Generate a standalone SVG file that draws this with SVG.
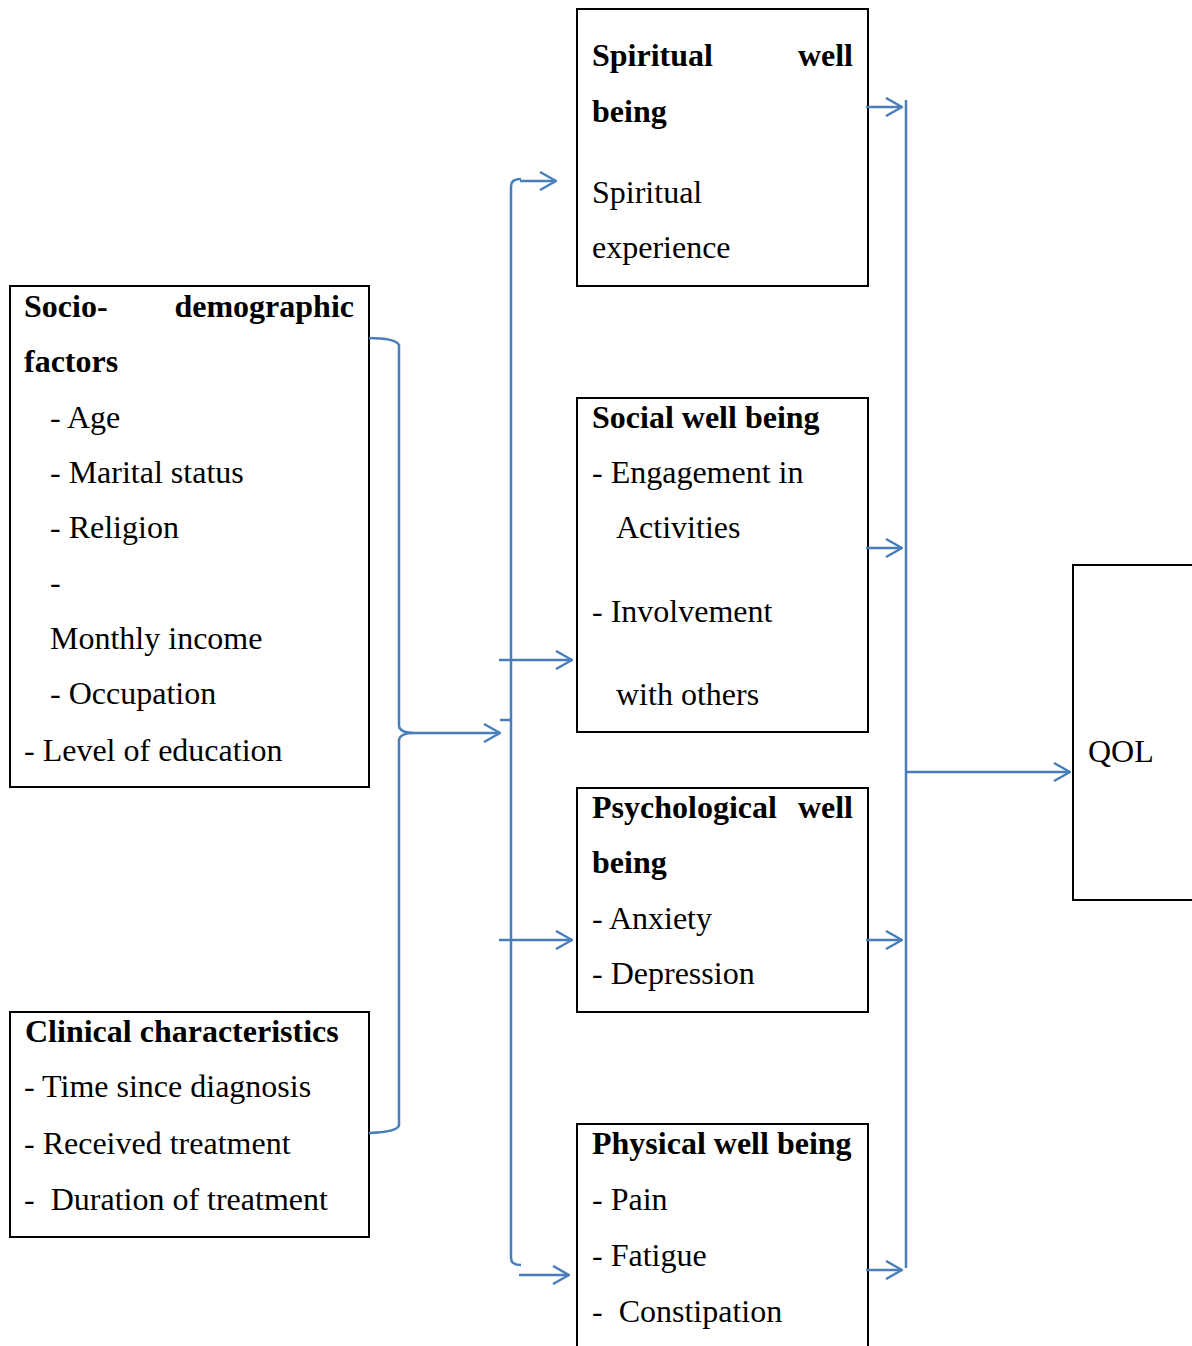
<svg xmlns="http://www.w3.org/2000/svg" width="1192" height="1346" viewBox="0 0 1192 1346">
<style>
.box{fill:#fff;stroke:#000;stroke-width:2}
text{font-family:"Liberation Serif","Times New Roman",serif;font-size:32px;fill:#000}
.b{font-weight:bold}
.c{fill:none;stroke:#4a7ebb;stroke-width:2.5}
</style>
<defs>
<marker id="ah" viewBox="0 0 18 20" refX="17" refY="10" markerWidth="18" markerHeight="20" markerUnits="userSpaceOnUse" orient="auto">
<path d="M1,1 L17,10 L1,19" fill="none" stroke="#4a7ebb" stroke-width="2.5"/>
</marker>
</defs>
<rect width="1192" height="1346" fill="#fff"/>
<g id="socio">
<rect class="box" x="10" y="286" width="359" height="501"/>
<text class="b" x="24" y="317">Socio-</text>
<text class="b" x="354" y="317" text-anchor="end">demographic</text>
<text class="b" x="24" y="372">factors</text>
<text x="50" y="428">- Age</text>
<text x="50" y="483">- Marital status</text>
<text x="50" y="538">- Religion</text>
<text x="50" y="593">-</text>
<text x="50" y="649">Monthly income</text>
<text x="50" y="704">- Occupation</text>
<text x="24" y="761">- Level of education</text>
</g>
<g id="clinical">
<rect class="box" x="10" y="1012" width="359" height="225"/>
<text class="b" x="25" y="1042">Clinical characteristics</text>
<text x="24" y="1097">- Time since diagnosis</text>
<text x="24" y="1154">- Received treatment</text>
<text x="24" y="1210" xml:space="preserve">-  Duration of treatment</text>
</g>
<g id="spiritual">
<rect class="box" x="577" y="9" width="291" height="277"/>
<text class="b" x="592" y="66">Spiritual</text>
<text class="b" x="853" y="66" text-anchor="end">well</text>
<text class="b" x="592" y="122">being</text>
<text x="592" y="203">Spiritual</text>
<text x="592" y="258">experience</text>
</g>
<g id="social">
<rect class="box" x="577" y="398" width="291" height="334"/>
<text class="b" x="592" y="428">Social well being</text>
<text x="592" y="483">- Engagement in</text>
<text x="616" y="538">Activities</text>
<text x="592" y="622">- Involvement</text>
<text x="616" y="705">with others</text>
</g>
<g id="psychological">
<rect class="box" x="577" y="788" width="291" height="224"/>
<text class="b" x="592" y="818">Psychological</text>
<text class="b" x="853" y="818" text-anchor="end">well</text>
<text class="b" x="592" y="873">being</text>
<text x="592" y="929">- Anxiety</text>
<text x="592" y="984">- Depression</text>
</g>
<g id="physical">
<rect class="box" x="577" y="1124" width="291" height="240"/>
<text class="b" x="592" y="1154">Physical well being</text>
<text x="592" y="1210">- Pain</text>
<text x="592" y="1266">- Fatigue</text>
<text x="592" y="1322" xml:space="preserve">-  Constipation</text>
</g>
<g id="qol">
<rect class="box" x="1073" y="565" width="140" height="335"/>
<text x="1088" y="762">QOL</text>
</g>
<g id="connectors">
<path class="c" d="M369,338 Q395,338 399,345 V726 Q400,733 415,733 Q400,733 399,740 V1125 Q398,1132 369,1133"/>
<path class="c" d="M415,733 H500" marker-end="url(#ah)"/>
<path class="c" d="M500,720 H511"/>
<path class="c" d="M521,179 Q511,179 511,186 V1258 Q511,1265 521,1265"/>
<path class="c" d="M520,181 H556" marker-end="url(#ah)"/>
<path class="c" d="M499,660 H572" marker-end="url(#ah)"/>
<path class="c" d="M499,940 H572" marker-end="url(#ah)"/>
<path class="c" d="M519,1275 H569" marker-end="url(#ah)"/>
<path class="c" d="M906,100 V1268"/>
<path class="c" d="M866,107 H902" marker-end="url(#ah)"/>
<path class="c" d="M866,548 H902" marker-end="url(#ah)"/>
<path class="c" d="M866,940 H902" marker-end="url(#ah)"/>
<path class="c" d="M866,1270 H902" marker-end="url(#ah)"/>
<path class="c" d="M906,772 H1070" marker-end="url(#ah)"/>
</g>
</svg>
